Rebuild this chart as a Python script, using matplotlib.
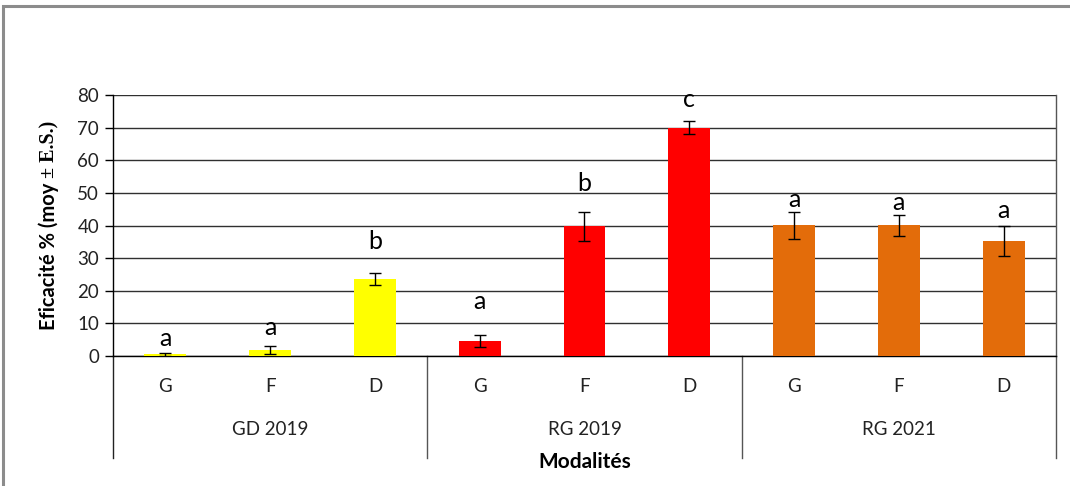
import matplotlib
matplotlib.use("Agg")
import matplotlib.pyplot as plt
from matplotlib.patches import Rectangle
import matplotlib.transforms as mtransforms

# Data
groups = ["GD 2019", "RG 2019", "RG 2021"]
modalities = ["G", "F", "D"]
efficacy = [0.5, 1.8, 23.7, 4.5, 39.7, 70.0, 40.1, 40.1, 35.3]
std_err = [0.4, 1.2, 1.8, 1.8, 4.3, 2.1, 4.1, 3.2, 4.6]
letters = ["a", "a", "b", "a", "b", "c", "a", "a", "a"]
yticks = [0, 10, 20, 30, 40, 50, 60, 70, 80]

# Style
group_colors = ["#FFFF00", "#FF0000", "#E36C0A"]
letter_gap = [4.6, 5.6, 9.5, 10.3, 9.0, 6.4, 3.8, 3.8, 4.6]
sans = "Lato"

fig = plt.figure(figsize=(10.7, 4.86), dpi=100)
fig.patches.append(Rectangle((0.003, -0.1), 1.2, 0.988 + 0.1, transform=fig.transFigure,
                             fill=False, edgecolor="#8c8c8c", linewidth=2.2))
ax = fig.add_axes([0.1056, 0.2675, 0.8813, 0.537])

n = len(efficacy)
x = list(range(n))
colors = [group_colors[i // 3] for i in range(n)]
ax.bar(x, efficacy, width=0.4, color=colors, edgecolor="none", zorder=3)
ax.errorbar(x, efficacy, yerr=std_err, fmt="none", ecolor="black",
            elinewidth=1.0, capsize=4.5, capthick=1.0, zorder=4)

for xi, v, e, lab, g in zip(x, efficacy, std_err, letters, letter_gap):
    ax.text(xi, v + e + g, lab, ha="center", va="center", fontsize=18,
            family=sans, color="black", zorder=5)

ax.set_xlim(-0.5, n - 0.5)
ax.set_ylim(0, 80)
ax.set_yticks(yticks)
ax.set_yticklabels([str(t) for t in yticks], fontsize=13.5, family=sans, color="#222222")
ax.tick_params(axis="y", direction="out", length=6, width=1, pad=4)
ax.set_xticks([])
ax.yaxis.grid(True, color="#303030", linewidth=1.0, zorder=0)
ax.set_axisbelow(True)
ax.spines["top"].set_visible(False)
ax.spines["left"].set_color("black")
ax.spines["bottom"].set_color("black")
ax.spines["right"].set_color("#555555")
for sp in ax.spines.values():
    sp.set_linewidth(1.0)

# Two-level category axis below the plot
trans = mtransforms.blended_transform_factory(ax.transData, ax.transAxes)
for xi, i in zip(x, range(n)):
    ax.text(xi, -0.115, modalities[i % 3], transform=trans, ha="center", va="center",
            fontsize=13.5, family=sans, color="#222222")
for gi, gname in enumerate(groups):
    ax.text(gi * 3 + 1, -0.28, gname, transform=trans, ha="center", va="center",
            fontsize=13.5, family=sans, color="#222222")
for b in [-0.5, 2.5, 5.5, 8.5]:
    ax.plot([b, b], [0, -0.39], transform=trans, color="#222222" if b == -0.5 else "#555555",
            linewidth=1.0, clip_on=False)

fig.text(0.5467, 1 - 462 / 486, "Modalités", ha="center", va="center",
         fontsize=15, fontweight="bold", family=sans)

# Y-axis title with mixed sans/serif parts
part1 = fig.text(0, 0, "Eficacité % (moy ", rotation=90, fontsize=14.5, fontweight="bold",
                 family=sans, ha="center", va="bottom")
part2 = fig.text(0, 0, "\u00b1 E.S.)", rotation=90, fontsize=14.5, fontweight="bold",
                 family="Liberation Serif", ha="center", va="bottom")
fig.canvas.draw()
r = fig.canvas.get_renderer()
h1 = part1.get_window_extent(r).height
h2 = part2.get_window_extent(r).height
H = fig.bbox.height
xc = 49 / 1070
ycen = (486 - 225.5)
y0 = ycen - (h1 + h2) / 2
part1.set_position((xc, y0 / H))
part2.set_position((xc, (y0 + h1) / H))

fig.savefig("out.png", dpi=100)
